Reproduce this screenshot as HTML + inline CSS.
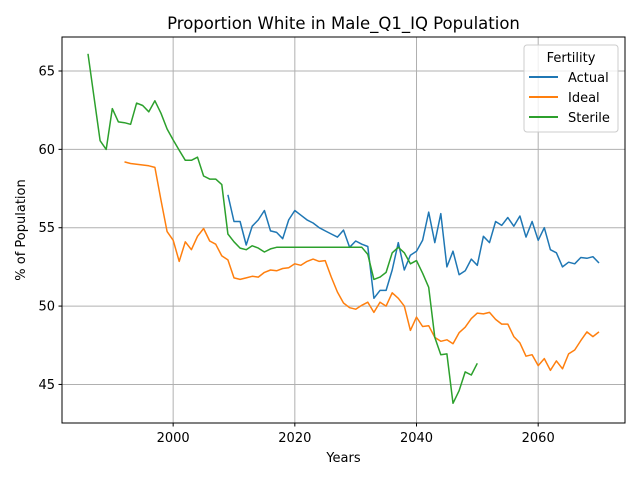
<!DOCTYPE html>
<html><head><meta charset="utf-8"><style>
body{margin:0;background:#fff;font-family:"DejaVu Sans","Liberation Sans",sans-serif;}
svg text{font-family:"DejaVu Sans","Liberation Sans",sans-serif;}
</style></head><body>
<svg id="chart" width="640" height="480" xmlns="http://www.w3.org/2000/svg">
<rect width="640" height="480" fill="#fff"/>
<text x="343.5" y="29" font-size="16.5" text-anchor="middle">Proportion White in Male_Q1_IQ Population</text>
<g id="grid"></g>
<g id="series"></g>
<rect x="62" y="37" width="563" height="386" fill="none" stroke="#000" stroke-width="1"/>
<g id="axes"></g>
<text x="343.5" y="462" font-size="13" text-anchor="middle">Years</text>
<text transform="translate(25,230) rotate(-90)" font-size="13" text-anchor="middle">% of Population</text>
<g>
<rect x="524" y="45" width="94" height="87" rx="3" fill="#fff" fill-opacity="0.8" stroke="#ccc"/>
<text x="571" y="62" font-size="13" text-anchor="middle">Fertility</text>
<line x1="529" y1="77" x2="558" y2="77" stroke="#1f77b4" stroke-width="2"/>
<text x="568" y="82" font-size="13">Actual</text>
<line x1="529" y1="97" x2="558" y2="97" stroke="#ff7f0e" stroke-width="2"/>
<text x="568" y="102" font-size="13">Ideal</text>
<line x1="529" y1="117" x2="558" y2="117" stroke="#2ca02c" stroke-width="2"/>
<text x="568" y="122" font-size="13">Sterile</text>
</g>
</svg>
<script>
const xTicks=[2000,2020,2040,2060];
const yTicks=[45,50,55,60,65];
const actualStart=2009;
const actualValues=[57.1,55.4,55.4,53.9,55.1,55.5,56.1,54.8,54.7,54.3,55.5,56.1,55.8,55.5,55.3,55.0,54.8,54.6,54.4,54.85,53.75,54.15,53.95,53.8,50.5,51.0,51.0,52.3,54.05,52.3,53.25,53.5,54.2,56.0,54.05,55.9,52.5,53.5,52.0,52.25,53.0,52.6,54.45,54.05,55.4,55.15,55.65,55.1,55.75,54.4,55.4,54.2,55.0,53.6,53.4,52.5,52.8,52.7,53.1,53.05,53.15,52.75];
const idealStart=1992;
const idealValues=[59.2,59.1,59.05,59.0,58.95,58.85,56.75,54.75,54.2,52.85,54.1,53.6,54.45,54.95,54.15,53.95,53.2,52.95,51.8,51.7,51.8,51.9,51.85,52.15,52.3,52.25,52.4,52.45,52.7,52.6,52.85,53.0,52.85,52.9,51.85,50.9,50.2,49.9,49.8,50.05,50.25,49.6,50.25,50.0,50.85,50.5,50.0,48.45,49.3,48.7,48.75,48.0,47.75,47.85,47.6,48.3,48.65,49.2,49.55,49.5,49.6,49.15,48.85,48.85,48.05,47.65,46.8,46.9,46.2,46.65,45.9,46.5,46.0,46.95,47.2,47.8,48.35,48.05,48.35];
const sterileStart=1986;
const sterileValues=[66.1,63.3,60.55,60.0,62.6,61.75,61.7,61.6,62.95,62.8,62.4,63.1,62.3,61.3,60.6,59.95,59.3,59.3,59.5,58.3,58.1,58.1,57.75,54.6,54.1,53.7,53.6,53.85,53.7,53.45,53.65,53.75,53.75,53.75,53.75,53.75,53.75,53.75,53.75,53.75,53.75,53.75,53.75,53.75,53.75,53.75,53.3,51.7,51.85,52.15,53.4,53.75,53.4,52.7,52.9,52.1,51.2,48.0,46.9,46.95,43.8,44.6,45.8,45.6,46.35];
const X0=62,X1=625,Y0=423,Y1=37,XMIN=1981.73,XMAX=2074.27,YMIN=42.54,YMAX=67.17;
const xs=v=>X0+(v-XMIN)/(XMAX-XMIN)*(X1-X0);
const ys=v=>Y0-(v-YMIN)/(YMAX-YMIN)*(Y0-Y1);
const NS="http://www.w3.org/2000/svg";
const grid=document.getElementById('grid'),axes=document.getElementById('axes'),ser=document.getElementById('series');
function mk(tag,attrs,parent){const e=document.createElementNS(NS,tag);for(const k in attrs)e.setAttribute(k,attrs[k]);parent.appendChild(e);return e;}
xTicks.forEach(t=>{const x=xs(t);
 const g=mk('line',{x1:x,x2:x,y1:Y1,y2:Y0,stroke:'#b0b0b0','stroke-width':1},grid);
 
 
 mk('line',{x1:x,x2:x,y1:Y0,y2:Y0+3.5,stroke:'#000'},axes);
 const tx=mk('text',{x:x,y:Y0+19,'font-size':13,'text-anchor':'middle'},axes);tx.textContent=t;
 
 
});
yTicks.forEach(t=>{const y=ys(t);
 const g=mk('line',{x1:X0,x2:X1,y1:y,y2:y,stroke:'#b0b0b0','stroke-width':1},grid);
 
 
 mk('line',{x1:X0-3.5,x2:X0,y1:y,y2:y,stroke:'#000'},axes);
 const tx=mk('text',{x:X0-7,y:y+4.5,'font-size':13,'text-anchor':'end'},axes);tx.textContent=t;
 
 
});
function line(start,vals,color,name){
 const pts=vals.map((v,i)=>xs(start+i).toFixed(1)+','+ys(v).toFixed(1)).join(' ');
 const p=mk('polyline',{points:pts,fill:'none',stroke:color,'stroke-width':1.5,'stroke-linejoin':'round'},ser);
 
 
}
line(actualStart,actualValues,'#1f77b4','actual-line');
line(idealStart,idealValues,'#ff7f0e','ideal-line');
line(sterileStart,sterileValues,'#2ca02c','sterile-line');
</script>
</body></html>
